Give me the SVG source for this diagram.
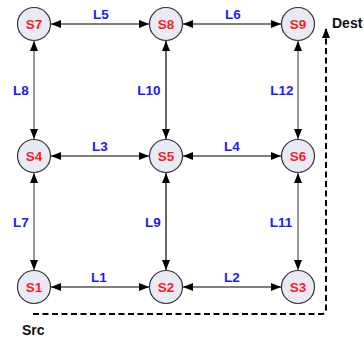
<svg xmlns="http://www.w3.org/2000/svg" width="364" height="338" viewBox="0 0 364 338">
  <style>
    .node circle { fill: #e8ebf6; stroke: #333; stroke-width: 1.2; }
    .node text { font-family: "Liberation Sans", Arial, sans-serif; font-weight: bold; font-size: 13.5px; fill: #ff1a1a; text-anchor: middle; }
    .link { stroke: #000; stroke-width: 1.2; marker-start: url(#ah); marker-end: url(#ah); }
    .link.grey { stroke: #808080; stroke-width: 1.6; }
    .lbl { font-family: "Liberation Sans", Arial, sans-serif; font-weight: bold; font-size: 13.5px; fill: #1a1aff; text-anchor: middle; }
    .tag { font-family: "Liberation Sans", Arial, sans-serif; font-weight: bold; font-size: 14px; fill: #111; }
    .path { fill: none; stroke: #000; stroke-width: 2; stroke-dasharray: 6 3.5; }
  </style>
  <defs>
    <marker id="ah" viewBox="0 0 10 8" refX="10" refY="4" markerWidth="10" markerHeight="8" markerUnits="userSpaceOnUse" orient="auto-start-reverse">
      <path d="M0,0 L10,4 L0,8 Z" fill="#000"/>
    </marker>
    <marker id="ah2" viewBox="0 0 10 8" refX="10" refY="4" markerWidth="10" markerHeight="8" markerUnits="userSpaceOnUse" orient="auto">
      <path d="M0,0 L10,4 L0,8 Z" fill="#000"/>
    </marker>
  </defs>

  <!-- links between switches -->
  <g id="connectors">
    <line class="link" x1="51" y1="24" x2="149" y2="24"/>
    <line class="link" x1="183" y1="24" x2="281" y2="24"/>
    <line class="link" x1="51" y1="156" x2="149" y2="156"/>
    <line class="link" x1="183" y1="156" x2="281" y2="156"/>
    <line class="link" x1="51" y1="287" x2="149" y2="287"/>
    <line class="link" x1="183" y1="287" x2="281" y2="287"/>
    <line class="link grey" x1="34" y1="41" x2="34" y2="139"/>
    <line class="link" x1="166" y1="41" x2="166" y2="139"/>
    <line class="link grey" x1="298" y1="41" x2="298" y2="139"/>
    <line class="link grey" x1="34" y1="173" x2="34" y2="270"/>
    <line class="link" x1="166" y1="173" x2="166" y2="270"/>
    <line class="link grey" x1="298" y1="173" x2="298" y2="270"/>
    <!-- route from source to destination -->
    <path class="path" d="M33,314 H321 Q326,314 326,309 V28" marker-end="url(#ah2)"/>
  </g>

  <!-- link labels -->
  <g id="labels">
    <text class="lbl" x="101" y="19">L5</text>
    <text class="lbl" x="233" y="19">L6</text>
    <text class="lbl" x="100" y="151">L3</text>
    <text class="lbl" x="232" y="151">L4</text>
    <text class="lbl" x="99" y="282">L1</text>
    <text class="lbl" x="232" y="282">L2</text>
    <text class="lbl" x="21" y="95">L8</text>
    <text class="lbl" x="149" y="95">L10</text>
    <text class="lbl" x="282" y="95">L12</text>
    <text class="lbl" x="21" y="227">L7</text>
    <text class="lbl" x="153" y="227">L9</text>
    <text class="lbl" x="281" y="227">L11</text>
  </g>

  <g id="S7" class="node"><circle cx="34" cy="24" r="16.5"/><text x="34" y="29">S7</text></g>
  <g id="S8" class="node"><circle cx="166" cy="24" r="16.5"/><text x="166" y="29">S8</text></g>
  <g id="S9" class="node"><circle cx="298" cy="24" r="16.5"/><text x="298" y="29">S9</text></g>
  <g id="S4" class="node"><circle cx="34" cy="156" r="16.5"/><text x="34" y="161">S4</text></g>
  <g id="S5" class="node"><circle cx="166" cy="156" r="16.5"/><text x="166" y="161">S5</text></g>
  <g id="S6" class="node"><circle cx="298" cy="156" r="16.5"/><text x="298" y="161">S6</text></g>
  <g id="S1" class="node"><circle cx="34" cy="287" r="16.5"/><text x="34" y="292">S1</text></g>
  <g id="S2" class="node"><circle cx="166" cy="287" r="16.5"/><text x="166" y="292">S2</text></g>
  <g id="S3" class="node"><circle cx="298" cy="287" r="16.5"/><text x="298" y="292">S3</text></g>

  <text class="tag" x="332" y="28">Dest</text>
  <text class="tag" x="22" y="335">Src</text>
</svg>
